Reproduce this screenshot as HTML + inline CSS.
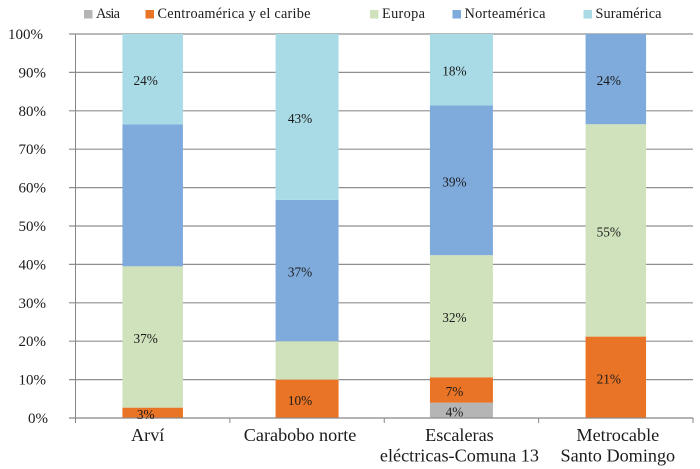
<!DOCTYPE html>
<html lang="es">
<head>
<meta charset="utf-8">
<title>Chart</title>
<style>
html,body{margin:0;padding:0;background:#fff;width:700px;height:469px;overflow:hidden}
svg{display:block;font-family:"Liberation Serif",serif;fill:#1c1c1c}
</style>
</head>
<body>
<svg id="chart" width="700" height="469" viewBox="0 0 700 469" xmlns="http://www.w3.org/2000/svg"></svg>
<script>
const categories = [["Arví"], ["Carabobo norte"], ["Escaleras", "eléctricas-Comuna 13"], ["Metrocable", "Santo Domingo"]];
const seriesNames = ["Asia", "Centroamérica y el caribe", "Europa", "Norteamérica", "Suramérica"];
const asiaValues = [0, 0, 4, 0];
const centroValues = [2.7, 10, 6.6, 21.2];
const europaValues = [36.8, 10, 31.8, 55.3];
const norteValues = [37, 36.8, 39, 23.5];
const surValues = [23.5, 43.2, 18.6, 0];
const asiaLabels = [null, null, "4%", null];
const centroLabels = ["3%", "10%", "7%", "21%"];
const europaLabels = ["37%", null, "32%", "55%"];
const norteLabels = [null, "37%", "39%", "24%"];
const surLabels = ["24%", "43%", "18%", null];
const yTicks = [0, 10, 20, 30, 40, 50, 60, 70, 80, 90, 100];

const seriesValues = [asiaValues, centroValues, europaValues, norteValues, surValues];
const seriesLabels = [asiaLabels, centroLabels, europaLabels, norteLabels, surLabels];
const seriesColors = ["#b5b5b5", "#ea7425", "#cfe2bb", "#7fabdc", "#a9dbe6"];
const legendSwatchX = [84, 145.5, 370, 452.5, 583.5];
const legendTextWidth = [24, 153, 43, 81, 66];
const barWidths = [60.5, 63, 63, 60.5];
const categoryNudge = [-5, -7, -2, 2];

const svg = document.getElementById("chart");
const NS = "http://www.w3.org/2000/svg";
const plotLeft = 75.5, plotRight = 693, plotTop = 34, plotBottom = 418;
const bandWidth = (plotRight - plotLeft) / categories.length;
function yScale(v) { return plotBottom - (v / 100) * (plotBottom - plotTop); }
function xCenter(i) { return plotLeft + bandWidth * (i + 0.5); }
function tickLabelRight(t) { return t === 100 ? 43 : (t === 0 ? 48 : 46); }
function make(tag, attrs, parent) {
  const el = document.createElementNS(NS, tag);
  for (const k in attrs) el.setAttribute(k, attrs[k]);
  (parent || svg).appendChild(el);
  return el;
}

yTicks.forEach(function (t) {
  const y = yScale(t);
  const line = make("line", { x1: 69, x2: plotRight, y1: y, y2: y, stroke: "#8f8f8f", "stroke-width": 1.2 });
  
  
  const label = make("text", { x: tickLabelRight(t), y: y + 5, "text-anchor": "end", "font-size": 15 });
  label.textContent = t + "%";
  
  
});

const yAxis = make("line", { x1: plotLeft, x2: plotLeft, y1: plotTop, y2: plotBottom + 5, stroke: "#868686", "stroke-width": 1 });



categories.forEach(function (c, i) {
  let base = 0;
  seriesValues.forEach(function (vals, s) {
    const v = vals[i];
    if (v > 0) {
      const yTop = yScale(base + v);
      const rect = make("rect", { x: xCenter(i) - barWidths[i] / 2, y: yTop, width: barWidths[i], height: yScale(base) - yTop, fill: seriesColors[s] });
      
      
    }
    base += v;
  });
});

const xAxis = make("line", { x1: 69, x2: plotRight, y1: plotBottom, y2: plotBottom, stroke: "#868686", "stroke-width": 1 });



for (let i = 0; i <= categories.length; i++) {
  const x = plotLeft + bandWidth * i;
  const tick = make("line", { x1: x, x2: x, y1: plotBottom, y2: plotBottom + 5, stroke: "#868686", "stroke-width": 1 });
  
  
}

categories.forEach(function (c, i) {
  let base = 0;
  seriesValues.forEach(function (vals, s) {
    const v = vals[i];
    const lab = seriesLabels[s][i];
    if (lab) {
      const text = make("text", { x: xCenter(i) - 7, y: yScale(base + v / 2) + 6, "text-anchor": "middle", "font-size": 13.3 });
      text.textContent = lab;
      
      
    }
    base += v;
  });
  c.forEach(function (line, j) {
    const text = make("text", { x: xCenter(i) + categoryNudge[i], y: 441 + j * 20.5, "text-anchor": "middle", "font-size": 18.2 });
    text.textContent = line;
    
    
  });
});

seriesNames.forEach(function (name, s) {
  const x = legendSwatchX[s];
  const swatch = make("rect", { x: x, y: 10, width: 8.5, height: 8.5, fill: seriesColors[s] });
  
  
  const text = make("text", { x: x + 12, y: 18, "font-size": 14.3, textLength: legendTextWidth[s], lengthAdjust: "spacing" });
  text.textContent = name;
  
  
});
</script>
</body>
</html>
